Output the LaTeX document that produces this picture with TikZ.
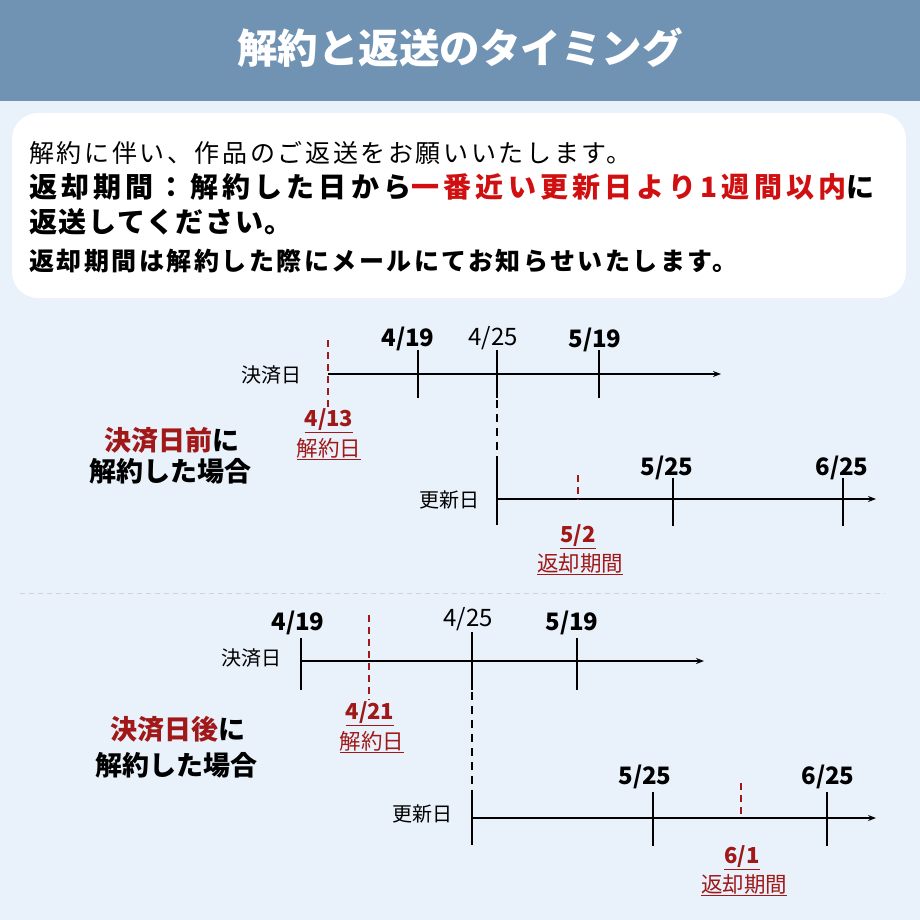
\documentclass[tikz,border=0pt]{standalone}
\usepackage{fontspec}
\setmainfont{Noto Sans CJK JP}
\newfontfamily\lsa[LetterSpace=10.5]{Noto Sans CJK JP}
\newfontfamily\lsb[LetterSpace=15]{Noto Sans CJK JP}
\newfontfamily\lsc[LetterSpace=6]{Noto Sans CJK JP}
\newfontfamily\lsd[LetterSpace=10]{Noto Sans CJK JP}
\usetikzlibrary{arrows.meta}
\definecolor{hdr}{HTML}{7193B3}
\definecolor{bg}{HTML}{E9F1FA}
\definecolor{rd}{HTML}{D01010}
\definecolor{dr}{HTML}{A01818}
\tikzset{
 t/.style={inner sep=0pt,font=\fontsize{20}{24}\selectfont},
 lbl/.style={inner sep=0pt,font=\fontsize{24}{28}\selectfont\bfseries},
 lblr/.style={inner sep=0pt,font=\fontsize{24}{28}\selectfont},
 rlbl/.style={inner sep=0pt,text=dr,font=\fontsize{22}{26}\selectfont\bfseries},
 rsub/.style={inner sep=0pt,text=dr,font=\fontsize{21.5}{26}\selectfont},
 axis/.style={line width=1.6pt,-{Stealth[length=8pt,width=6pt]}},
 tick/.style={line width=1.6pt},
 rdash/.style={draw=dr,line width=1.5pt,dash pattern=on 7pt off 5pt},
 kdash/.style={draw=black,line width=1.6pt,dash pattern=on 8pt off 6pt},
 side/.style={inner sep=0pt,font=\fontsize{27}{32}\selectfont\bfseries,align=center},
}
\begin{document}
\begin{tikzpicture}[x=1pt,y=-1pt]
\useasboundingbox (0,0) rectangle (920,920);
\fill[bg] (0,0) rectangle (920,920);
\fill[hdr] (0,0) rectangle (920,101);
\node[inner sep=0pt,text=white,font=\fontsize{40.5}{44}\selectfont\bfseries] (title) at (460,48) {解約と返送のタイミング};
\fill[white,rounded corners=26pt] (12,113) rectangle (906,298);
\node[t,anchor=west,font=\lsa\fontsize{25}{30}\selectfont] (l1) at (29,153) {解約に伴い、作品のご返送をお願いいたします。};
\node[t,anchor=west,font=\lsb\fontsize{28}{34}\selectfont\bfseries] (l2) at (29,187) {返却期間：解約した日から\textcolor{rd}{一番近い更新日より1週間以内}に};
\node[t,anchor=west,font=\lsc\fontsize{28}{34}\selectfont\bfseries] (l3) at (29,222) {返送してください。};
\node[t,anchor=west,font=\lsd\fontsize{25}{30}\selectfont\bfseries] (l4) at (29,261) {返却期間は解約した際にメールにてお知らせいたします。};

% diagram 1
\node[t] (k1) at (271,375) {決済日};
\coordinate (a1s) at (328,374); \coordinate (a1e) at (721,374);
\draw[axis] (a1s) -- (a1e);
\draw[rdash] (328,340) -- (328,410);
\draw[tick] (418,350) -- (418,398);
\draw[tick] (497,350) -- (497,398);
\draw[tick] (599,350) -- (599,398);
\node[lbl] (d1) at (408,339) {4/19};
\node[lblr] (d2) at (493,338) {4/25};
\node[lbl] (d3) at (595,340) {5/19};
\node[rlbl] (r1) at (329,421) {\underline{4/13}};
\node[rsub] (r1b) at (329,449) {\underline{解約日}};
\draw[kdash] (497,400) -- (497,464);
\node[t] (u1) at (449,500) {更新日};
\draw[axis] (497,499) -- (876,499);
\draw[tick] (497,464) -- (497,525);
\draw[tick] (673,478) -- (673,526);
\draw[tick] (843,478) -- (843,526);
\node[lbl] (d4) at (667,468) {5/25};
\node[lbl] (d5) at (842,468) {6/25};
\draw[rdash] (578,475) -- (578,500);
\node[rlbl] (r2) at (578,537) {\underline{5/2}};
\node[rsub] (r2b) at (580,564) {\underline{返却期間}};
\node[side,anchor=west] (s1) at (104,440) {\textcolor{dr}{決済日前}に};
\node[side,anchor=west] (s1b) at (89,471) {解約した場合};

\draw[gray!35,line width=1pt,dash pattern=on 5pt off 4pt] (20,593) -- (885,593);

% diagram 2
\node[t] (k2) at (251,658) {決済日};
\draw[axis] (301,661) -- (704,661);
\draw[tick] (301,638) -- (301,690);
\draw[tick] (472,632) -- (472,690);
\draw[tick] (577,638) -- (577,690);
\node[lbl] (e1) at (298,623) {4/19};
\node[lblr] (e2) at (468,619) {4/25};
\node[lbl] (e3) at (572,623) {5/19};
\draw[rdash] (369,615) -- (369,700);
\node[rlbl] (q1) at (370,714) {\underline{4/21}};
\node[rsub] (q1b) at (372,742) {\underline{解約日}};
\draw[kdash] (472,692) -- (472,790);
\node[t] (u2) at (422,814) {更新日};
\draw[axis] (472,818) -- (876,818);
\draw[tick] (472,790) -- (472,845);
\draw[tick] (653,792) -- (653,846);
\draw[tick] (827,792) -- (827,846);
\node[lbl] (e4) at (645,777) {5/25};
\node[lbl] (e5) at (828,777) {6/25};
\draw[rdash] (741,783) -- (741,816);
\node[rlbl] (q2) at (742,858) {\underline{6/1}};
\node[rsub] (q2b) at (744,885) {\underline{返却期間}};
\node[side,anchor=west] (s2) at (110,729) {\textcolor{dr}{決済日後}に};
\node[side,anchor=west] (s2b) at (95,765) {解約した場合};
\end{tikzpicture}
\end{document}
